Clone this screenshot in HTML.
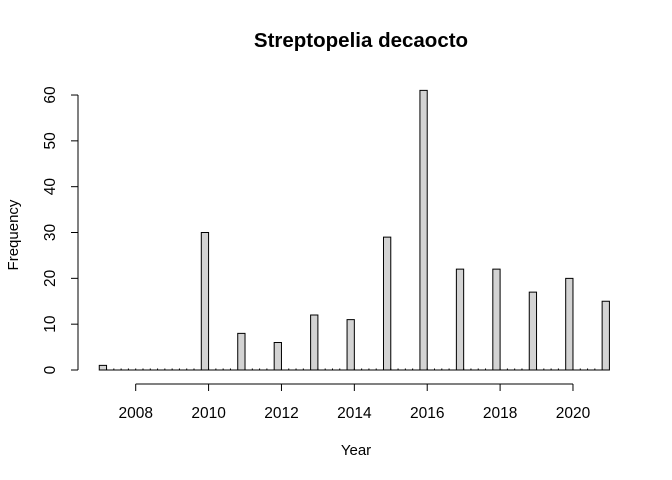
<!DOCTYPE html>
<html><head><meta charset="utf-8"><style>body{margin:0;background:#fff}svg{display:block;font-family:"Liberation Sans",sans-serif}</style></head>
<body>
<svg id="c" width="672" height="480">
<text x="361" y="47" text-anchor="middle" font-weight="bold" font-size="20.5">Streptopelia decaocto</text>
<text x="356" y="455" text-anchor="middle" font-size="15">Year</text>
<text transform="translate(18,235) rotate(-90)" text-anchor="middle" font-size="15">Frequency</text>
<g id="bars"></g><g id="axes"></g>
</svg>
<script>
const years=[2007,2008,2009,2010,2011,2012,2013,2014,2015,2016,2017,2018,2019,2020,2021];
const counts=[1,0,0,30,8,6,12,11,29,61,22,22,17,20,15];
const xTicks=[2008,2010,2012,2014,2016,2018,2020];
const yTicks=[0,10,20,30,40,50,60];
const NS="http://www.w3.org/2000/svg";
const xs=v=>135.7+(v-2008)*36.44;
const ys=v=>370-v*4.583;
const bars=document.getElementById('bars'),axes=document.getElementById('axes');
function mk(tag,attrs,parent){const e=document.createElementNS(NS,tag);for(const k in attrs)e.setAttribute(k,attrs[k]);parent.appendChild(e);return e;}
const lo=years[0],hi=years[years.length-1];
for(let i=0;i<Math.round((hi-lo)/0.2);i++){
  const a=lo+i*0.2,b=a+0.2;
  let c=0;
  years.forEach((y,j)=>{ if(i===0? (y>=a&&y<=b+1e-9):(y>a+1e-9&&y<=b+1e-9)) c+=counts[j]; });
  const x0=xs(a),x1=xs(b),y0=ys(0),y1=ys(c);
  const r=mk('path',{d:`M${x0},${y0}L${x0},${y1}L${x1},${y1}L${x1},${y0}Z`,fill:'#d3d3d3',stroke:'#000','stroke-width':1},bars);
  
  
  if(c===0){const t=mk('line',{x1:x0,x2:x0,y1:y0-1.5,y2:y0+0.5,stroke:'#000'},bars);
    
    }
}
mk('line',{x1:xs(xTicks[0]),x2:xs(xTicks[xTicks.length-1]),y1:384,y2:384,stroke:'#000'},axes);
xTicks.forEach(t=>{
  mk('line',{x1:xs(t),x2:xs(t),y1:384,y2:391,stroke:'#000'},axes);
  const tx=mk('text',{x:xs(t),y:418,'text-anchor':'middle','font-size':15.5},axes);tx.textContent=t;
  
  
});
mk('line',{x1:78,x2:78,y1:ys(0),y2:ys(60),stroke:'#000'},axes);
yTicks.forEach(t=>{
  mk('line',{x1:71,x2:78,y1:ys(t),y2:ys(t),stroke:'#000'},axes);
  const tx=mk('text',{transform:`translate(55,${ys(t)}) rotate(-90)`,'text-anchor':'middle','font-size':15.5},axes);tx.textContent=t;
  
  
});
</script>
</body></html>
